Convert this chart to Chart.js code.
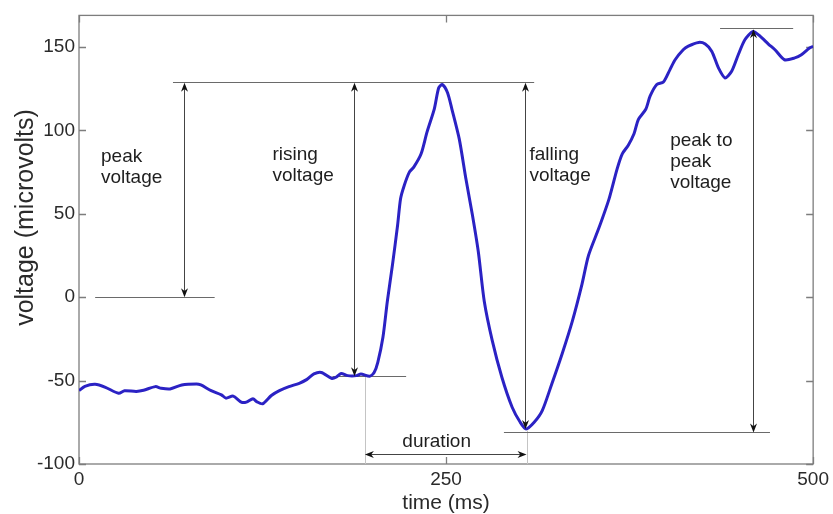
<!DOCTYPE html>
<html><head><meta charset="utf-8">
<script src="https://cdn.jsdelivr.net/npm/chart.js@4.4.0/dist/chart.umd.min.js"></script>
<style>html,body{margin:0;padding:0;background:#fff}#wrap{width:833px;height:514px}</style>
</head><body><div id="wrap"><canvas id="c" width="833" height="514"></canvas></div>
<script>
// ---- data (time in ms, voltage in microvolts) ----
const timeMs = [0,4,11,18,27,31,39,44,52,56,62,70,80,83,90,97,100,105,110.5,114,118.5,121,125,131,136.5,143,150,155,160,165,172,175,178.5,183,189,192,198,201,203.5,207,210,213.5,217,219,221.5,225,228,233,237,242,245,247.5,251,254,259,263.5,268,272,276,281.5,288,295,300.5,304.5,310,315.5,322,329,336,342.5,347,354,361,366.5,370,374,378,381,386,389,393.5,398,402.5,406,411.5,415,422,426.5,431,435.5,440,444.5,449,453.5,459,464,469.5,474,480.5,487.5,492,497.5,500];
const voltage = [-56,-53.4,-52.2,-54,-57.6,-56.1,-56.5,-55.8,-53.6,-54.6,-55,-52.6,-52,-52.6,-56,-58.5,-60.5,-59.3,-62.9,-62.9,-60.9,-62.6,-63.9,-58.9,-56,-53.6,-51.6,-49.4,-46,-45.1,-48.6,-48,-45.7,-47,-47,-46,-47.4,-45.1,-39,-24,-2.4,19.5,43.3,59,67,75,78,86,99,113,125.6,127.5,122.6,112.7,94.8,71,49,27,-2.4,-26.2,-48,-66,-75,-79,-75,-68,-52,-34,-14.3,7.6,25,41.3,59,77,86,91,98,106.7,112.7,120.7,127.6,129,136.5,142.4,148.4,150.6,152.8,151.8,147.4,137.5,131.5,135.5,145.4,154.4,159.3,156.4,151.8,148.4,142.4,143.5,145.4,149.4,150.5];
const xTicks = [0,250,500];
const yTicks = [-100,-50,0,50,100,150];

// reference lines [x1, x2, y] in data units
const refLines = [[64,310,129.2],[11,92.4,0],[172.6,222.8,-47.4],[289.4,470.6,-81.1],[436.6,486.4,161.3]];
// faint duration markers [x, y1, y2]
const durationMarks = [[194.7,-47.4,-100],[304.8,-80,-100]];
// vertical double arrows [x, yTop, yBottom]
const vArrows = [[71.5,129.2,0],[187,129.2,-47.4],[304,129.2,-79],[459.2,161.3,-81.1]];
// horizontal double arrow [x1, x2, y]
const hArrows = [[194.7,304.8,-94.2]];
// text labels: lines, x (left, data), baseline y of first line (data)
const labelTexts = [["peak","voltage"],["rising","voltage"],["falling","voltage"],["peak to","peak","voltage"]];
const labelX = [15, 131.8, 306.8, 402.6];
const labelY = [81.2, 82.4, 82.4, 90.5];
const durationText = "duration";
const durationPos = [243.6, -89.7];

const FONT = '"Liberation Sans", Arial, Helvetica, sans-serif';

function arrowHead(ctx, x, y, dx, dy){
  const L = 9, W = 3.5;
  const px = -dy, py = dx;
  ctx.beginPath();
  ctx.moveTo(x, y);
  ctx.lineTo(x - dx*L + px*W, y - dy*L + py*W);
  ctx.lineTo(x - dx*L*0.7, y - dy*L*0.7);
  ctx.lineTo(x - dx*L - px*W, y - dy*L - py*W);
  ctx.closePath();
  ctx.fill();
}

const annot = {
  id: 'annot',
  beforeDatasetsDraw(chart){
    const {ctx, chartArea:a, scales:{x,y}} = chart;
    const X = v => x.getPixelForValue(v), Y = v => y.getPixelForValue(v);
    ctx.save();
    ctx.strokeStyle = '#7d7d7d'; ctx.lineWidth = 1.3;
    ctx.strokeRect(a.left, a.top, a.right - a.left, a.bottom - a.top);
    ctx.beginPath();
    yTicks.forEach(v => { const p = Math.round(Y(v))+0.5; ctx.moveTo(a.left,p); ctx.lineTo(a.left+7,p); ctx.moveTo(a.right,p); ctx.lineTo(a.right-7,p); });
    xTicks.forEach(v => { const p = Math.round(X(v))+0.5; ctx.moveTo(p,a.bottom); ctx.lineTo(p,a.bottom-7); ctx.moveTo(p,a.top); ctx.lineTo(p,a.top+7); });
    ctx.stroke();
    // duration markers
    ctx.strokeStyle = '#c4c4c4'; ctx.lineWidth = 1;
    ctx.beginPath();
    durationMarks.forEach(([xv,y1,y2]) => { const p = Math.round(X(xv))+0.5; ctx.moveTo(p,Y(y1)); ctx.lineTo(p,Y(y2)); });
    ctx.stroke();
    // reference lines
    ctx.strokeStyle = '#6a6a6a'; ctx.lineWidth = 1;
    ctx.beginPath();
    refLines.forEach(([x1,x2,yv]) => { const p = Math.round(Y(yv))+0.5; ctx.moveTo(X(x1),p); ctx.lineTo(X(x2),p); });
    ctx.stroke();
    ctx.restore();
  },
  afterDatasetsDraw(chart){
    const {ctx, scales:{x,y}} = chart;
    const X = v => x.getPixelForValue(v), Y = v => y.getPixelForValue(v);
    ctx.save();
    ctx.strokeStyle = '#444'; ctx.fillStyle = '#111'; ctx.lineWidth = 1;
    vArrows.forEach(([xv,yt,yb]) => {
      const p = Math.round(X(xv))+0.5, t = Y(yt)+1, b = Y(yb);
      ctx.beginPath(); ctx.moveTo(p,t+4); ctx.lineTo(p,b-4); ctx.stroke();
      arrowHead(ctx,p,t,0,-1); arrowHead(ctx,p,b,0,1);
    });
    hArrows.forEach(([x1,x2,yv]) => {
      const p = Math.round(Y(yv))+0.5, l = X(x1), r = X(x2);
      ctx.beginPath(); ctx.moveTo(l+4,p); ctx.lineTo(r-4,p); ctx.stroke();
      arrowHead(ctx,l,p,-1,0); arrowHead(ctx,r,p,1,0);
    });
    // labels
    ctx.fillStyle = '#1e1e1e';
    ctx.font = '19px ' + FONT;
    ctx.textAlign = 'left'; ctx.textBaseline = 'alphabetic';
    labelTexts.forEach((lines,i) => {
      const lx = X(labelX[i]), ly = Y(labelY[i]);
      lines.forEach((s,j) => ctx.fillText(s, lx, ly + j*21));
    });
    ctx.textAlign = 'center';
    ctx.fillText(durationText, X(durationPos[0]), Y(durationPos[1]));
    // y axis title
    ctx.save();
    ctx.translate(26, 217.5);
    ctx.rotate(-Math.PI/2);
    ctx.textBaseline = 'middle';
    ctx.font = '25px ' + FONT;
    ctx.fillStyle = '#2a2a2a';
    ctx.fillText('voltage (microvolts)', 0, 0);
    ctx.restore();
    ctx.restore();
  }
};

new Chart(document.getElementById('c'), {
  type: 'line',
  data: { datasets: [{
    data: timeMs.map((t,i) => ({x:t, y:voltage[i]})),
    borderColor: '#2b22c4', borderWidth: 3, pointRadius: 0, tension: 0.25, fill: false
  }]},
  options: {
    responsive: false, animation: false, devicePixelRatio: 1,
    layout: { padding: { top: 12, right: 18, left: 0, bottom: 0 } },
    plugins: { legend: { display: false }, tooltip: { enabled: false } },
    scales: {
      x: {
        type: 'linear', min: 0, max: 500,
        afterBuildTicks: s => { s.ticks = xTicks.map(v => ({value: v})); },
        afterFit: s => { s.height = 50; },
        grid: { display: false, drawTicks: false }, border: { display: false },
        ticks: { font: { family: FONT, size: 19 }, color: '#2a2a2a', padding: 4, maxRotation: 0, autoSkip: false },
        title: { display: true, text: 'time (ms)', color: '#2a2a2a', font: { family: FONT, size: 21, lineHeight: 1 }, padding: { top: 0, bottom: 0 } }
      },
      y: {
        type: 'linear', min: -100, max: 169,
        afterBuildTicks: s => { s.ticks = yTicks.map(v => ({value: v})); },
        afterFit: s => { s.width = 79; },
        grid: { display: false, drawTicks: false }, border: { display: false },
        ticks: { font: { family: FONT, size: 19 }, color: '#2a2a2a', padding: 4, autoSkip: false }
      }
    }
  },
  plugins: [annot]
});
</script></body></html>
